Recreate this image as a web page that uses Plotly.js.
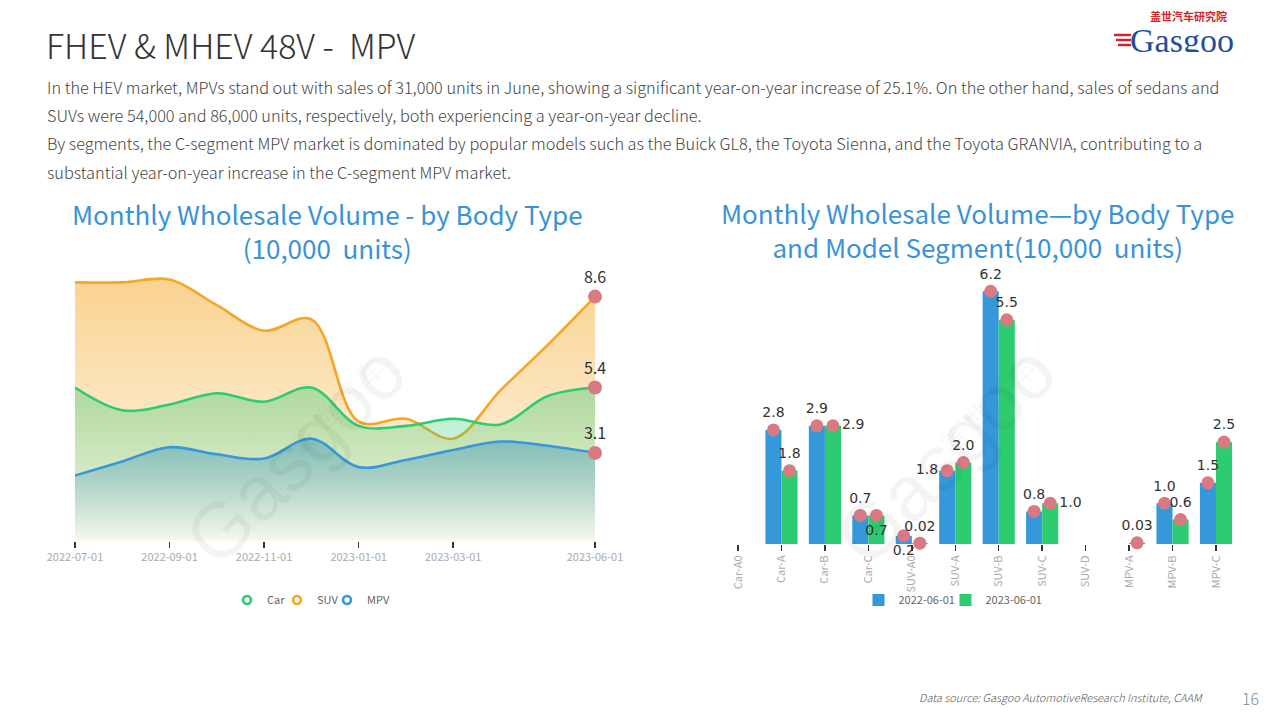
<!DOCTYPE html>
<html><head><meta charset="utf-8">
<script src="https://cdn.plot.ly/plotly-3.0.1.min.js"></script>
<style>html,body{margin:0;padding:0;background:#fff}#chart{width:1280px;height:720px}</style>
</head><body><div id="chart"></div>
<script>
// ---- Left chart data (10,000 units) ----
const months = ['2022-07-01','2022-08-01','2022-09-01','2022-10-01','2022-11-01','2022-12-01',
                '2023-01-01','2023-02-01','2023-03-01','2023-04-01','2023-05-01','2023-06-01'];
const carVolume = [5.4, 4.6, 4.8, 5.2, 4.9, 5.4, 4.05, 4.05, 4.3, 4.1, 5.1, 5.4];
const suvVolume = [9.1, 9.1, 9.2, 8.3, 7.4, 7.8, 4.2, 4.3, 3.6, 5.3, 6.9, 8.6];
const mpvVolume = [2.3, 2.8, 3.3, 3.05, 2.9, 3.6, 2.6, 2.85, 3.2, 3.5, 3.35, 3.1];
const monthTicks = ['2022-07-01','2022-09-01','2022-11-01','2023-01-01','2023-03-01','2023-06-01'];

// ---- Right chart data (10,000 units) ----
const segments = ['Car-A0','Car-A','Car-B','Car-C','SUV-A0','SUV-A','SUV-B','SUV-C','SUV-D','MPV-A','MPV-B','MPV-C'];
const vol2022 = [null, 2.8, 2.9, 0.7, 0.2, 1.8, 6.2, 0.8, null, null, 1.0, 1.5];
const vol2023 = [null, 1.8, 2.9, 0.7, 0.02, 2.0, 5.5, 1.0, null, 0.03, 0.6, 2.5];
const seriesNames = ['2022-06-01', '2023-06-01'];

// ---- styles ----
const pos2022 = ['top center','top center','top center','top center','bottom center','middle left','top center','top center','top center','top center','top center','top center'];
const pos2023 = ['top center','top center','middle right','bottom center','top center','top center','top center','middle right','top center','top center','top center','top center'];
const CJK = '"Noto Sans CJK SC", "Noto Sans", sans-serif';
const C_CAR = '#2ecc71', C_SUV = '#f5a623', C_MPV = '#3498db', C_DOT = '#d97a82';
const W = 1280, H = 720;
const px = v => v / W, py = v => 1 - v / H;
const fmt = v => v == null ? '' : (v < 0.1 ? v.toFixed(2) : v.toFixed(1));

function area(y, color, fillScale) {
  return {type:'scatter', mode:'lines', x:months, y:y, xaxis:'x', yaxis:'y',
    line:{color:color, width:2.6, shape:'spline', smoothing:1}, fill:'tozeroy',
    fillgradient:{type:'vertical', colorscale:fillScale}, showlegend:false, hoverinfo:'skip'};
}
function legendRing(name, color) {
  return {type:'scatter', mode:'markers', x:[null], y:[null], xaxis:'x', yaxis:'y', name:name,
    marker:{symbol:'circle-open', size:8, color:color, line:{width:2.6, color:color}}, legend:'legend'};
}
// empty spacer entry so the last legend label is not clipped
function legendSpacer(legendId, xa, ya) {
  return {type:'scatter', mode:'markers', x:[null], y:[null], xaxis:xa, yaxis:ya, name:' ',
    marker:{color:'rgba(0,0,0,0)', size:1, line:{width:0}}, legend:legendId, hoverinfo:'skip'};
}
const last = a => a[a.length - 1];

const traces = [
  area(suvVolume, C_SUV, [[0,'rgba(245,166,35,0.06)'],[1,'rgba(245,166,35,0.5)']]),
  area(carVolume, C_CAR, [[0,'rgba(46,204,113,0.03)'],[1,'rgba(46,204,113,0.38)']]),
  area(mpvVolume, C_MPV, [[0,'rgba(40,140,190,0.0)'],[1,'rgba(40,140,190,0.43)']]),
  {type:'scatter', mode:'markers+text', xaxis:'x', yaxis:'y', showlegend:false, hoverinfo:'skip', cliponaxis:false,
   x:[last(months), last(months), last(months)], y:[last(suvVolume), last(carVolume), last(mpvVolume)],
   text:[last(suvVolume), last(carVolume), last(mpvVolume)].map(fmt), textposition:'top center',
   textfont:{family:CJK, size:16, color:'#333'}, marker:{color:C_DOT, size:14}},
  legendRing('Car', C_CAR), legendRing('SUV', C_SUV), legendRing('MPV', C_MPV), legendSpacer('legend', 'x', 'y'),
  {type:'bar', name:seriesNames[0], x:segments.map((s,i)=>i), y:vol2022, xaxis:'x2', yaxis:'y2',
   width:0.37, offset:-0.37, marker:{color:C_MPV}, legend:'legend2', hoverinfo:'skip'},
  {type:'bar', name:seriesNames[1], x:segments.map((s,i)=>i), y:vol2023, xaxis:'x2', yaxis:'y2',
   width:0.37, offset:0, marker:{color:C_CAR}, legend:'legend2', hoverinfo:'skip'},
  legendSpacer('legend2', 'x2', 'y2'),
  {type:'scatter', mode:'markers+text', x:segments.map((s,i)=>i-0.185), y:vol2022, xaxis:'x2', yaxis:'y2',
   text:vol2022.map(fmt), textposition:pos2022, textfont:{family:'DejaVu Sans', size:14, color:'#333'},
   marker:{color:C_DOT, size:13}, showlegend:false, hoverinfo:'skip', cliponaxis:false},
  {type:'scatter', mode:'markers+text', x:segments.map((s,i)=>i+0.185), y:vol2023, xaxis:'x2', yaxis:'y2',
   text:vol2023.map(fmt), textposition:pos2023, textfont:{family:'DejaVu Sans', size:14, color:'#333'},
   marker:{color:C_DOT, size:13}, showlegend:false, hoverinfo:'skip', cliponaxis:false}
];

function ann(text, x, y, opts) {
  return Object.assign({text:text, x:px(x), y:py(y), xref:'paper', yref:'paper', showarrow:false,
    xanchor:'left', yanchor:'middle', font:{family:CJK, size:15, color:'#444', weight:300}}, opts || {});
}
const paraFont = {family:CJK, size:16.3, color:'#444', weight:300};
const titleFont = {family:CJK, size:26, color:'#3a93d6'};
const wmFont = {family:CJK, size:26, color:'rgba(0,0,0,0.045)'};
const wmFont2 = {family:'Liberation Sans', size:78, color:'rgba(0,0,0,0.045)'};
const annotations = [
  ann('FHEV &amp; MHEV 48V -\u00a0\u00a0MPV', 44, 44, {font:{family:CJK, size:34, color:'#333', weight:300}}),
  ann('In the HEV market, MPVs stand out with sales of 31,000 units in June, showing a significant year-on-year increase of 25.1%. On the other hand, sales of sedans and', 45, 87, {font:paraFont}),
  ann('SUVs were 54,000 and 86,000 units, respectively, both experiencing a year-on-year decline.', 45, 115, {font:paraFont}),
  ann('By segments, the C-segment MPV market is dominated by popular models such as the Buick GL8, the Toyota Sienna, and the Toyota GRANVIA, contributing to a', 45, 143, {font:paraFont}),
  ann('substantial year-on-year increase in the C-segment MPV market.', 45, 172, {font:paraFont}),
  ann('Monthly Wholesale Volume - by Body Type<br>(10,000  units)', 327, 230.5, {xanchor:'center', align:'center', font:titleFont}),
  ann('Monthly Wholesale Volume\u2014by Body Type<br>and Model Segment(10,000  units)', 977, 230, {xanchor:'center', align:'center', font:titleFont}),
  ann('<i>Data source: Gasgoo AutomotiveResearch Institute, CAAM</i>', 1205, 697, {xanchor:'right', font:{family:CJK, size:11, color:'#555', weight:300}}),
  ann('16', 1250, 698, {xanchor:'center', font:{family:CJK, size:16, color:'#888', weight:300}}),
  ann('<b>盖世汽车研究院</b>', 1229, 16, {xanchor:'right', height:12, font:{family:CJK, size:11, color:'#d0262d'}}),
  ann('Gasgoo', 1236, 40, {xanchor:'right', height:24, font:{family:'Liberation Serif', size:34, color:'#1f4f9d'}}),
  // watermarks
  ann('盖 世 汽 车', 335, 405, {xanchor:'center', textangle:-45, font:wmFont}),
  ann('Gasgoo', 295, 455, {xanchor:'center', textangle:-45, font:wmFont2}),
  ann('盖 世 汽 车', 985, 405, {xanchor:'center', textangle:-45, font:wmFont}),
  ann('Gasgoo', 945, 455, {xanchor:'center', textangle:-45, font:wmFont2})
];
const shapes = [0,1,2].map(k => ({type:'line', xref:'paper', yref:'paper',
  x0:px(1114 + k*2), x1:px(1131), y0:py(35 + k*5), y1:py(35 + k*5), line:{color:'#d0262d', width:2.5}}));

const tickCommon = {ticks:'outside', ticklen:6, tickwidth:1.5, tickcolor:'#333', showgrid:false,
  zeroline:false, showline:false, fixedrange:true};
const legendCommon = {orientation:'h', xanchor:'center', y:py(600), yanchor:'middle', bgcolor:'rgba(0,0,0,0)',
  font:{family:CJK, size:11, color:'#666'}, traceorder:'normal', itemwidth:30,
  entrywidthmode:'pixels'};
const layout = {
  width:W, height:H, margin:{l:0, r:0, t:0, b:0}, paper_bgcolor:'#fff', plot_bgcolor:'rgba(0,0,0,0)',
  showlegend:true, bargap:0.26,
  xaxis:Object.assign({type:'category', domain:[px(75), px(595)], range:[0, 11], anchor:'y',
    tickmode:'array', tickvals:monthTicks, ticktext:monthTicks,
    tickfont:{family:CJK, size:11, color:'#aaa'}}, tickCommon),
  yaxis:{domain:[py(541), py(271)], range:[0, 9.5], visible:false, fixedrange:true},
  xaxis2:Object.assign({type:'linear', domain:[px(716.3), px(1237.7)], range:[-0.5, 11.5], anchor:'y2',
    tickmode:'array', tickvals:segments.map((s,i)=>i), ticktext:segments, tickangle:-90,
    tickfont:{family:CJK, size:11, color:'#aaa'}}, tickCommon),
  yaxis2:{domain:[py(544), py(275)], range:[0, 6.6], visible:false, fixedrange:true},
  legend:Object.assign({x:px(327)}, legendCommon, {entrywidth:5}),
  legend2:Object.assign({x:px(989)}, legendCommon, {entrywidth:42}),
  annotations:annotations, shapes:shapes
};
Plotly.newPlot('chart', traces, layout, {staticPlot:true, displayModeBar:false});
</script></body></html>
